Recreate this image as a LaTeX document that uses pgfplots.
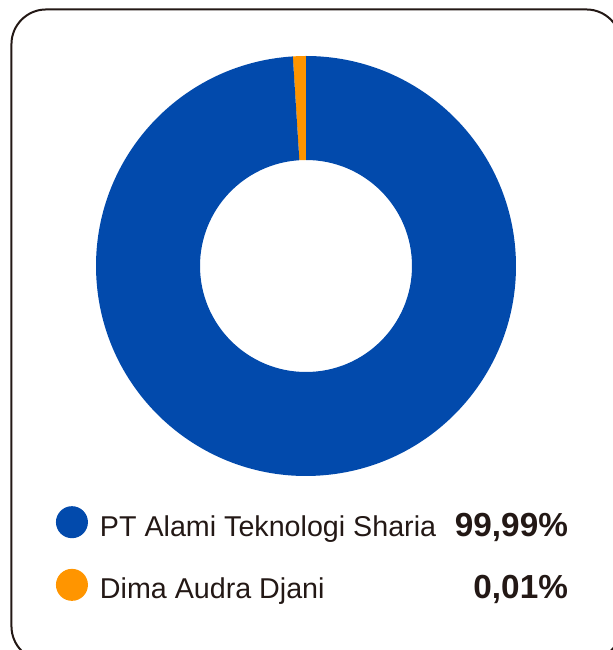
\documentclass[border=0pt]{standalone}
\usepackage{pgfplots}
\pgfplotsset{compat=1.18}
\usepackage{pgfplotstable}
\usepackage{fontspec}
\setmainfont{Liberation Sans}
\definecolor{cblue}{HTML}{024AAC}
\definecolor{corange}{HTML}{FF9500}
\definecolor{ink}{HTML}{231815}
\pgfplotstableread{
owner value
PT 99
Dima 1
}\shares
\begin{document}
\begin{tikzpicture}
\path[use as bounding box] (0pt,0pt) rectangle (459.75pt,487.5pt);
\begin{scope}
\clip (0pt,0pt) rectangle (459.75pt,487.5pt);
\draw[ink, line width=1.5pt, rounded corners=26pt] (8.6pt,-8.25pt) rectangle (465.75pt,480.4pt);
\end{scope}
\pgfplotstablegetelem{0}{value}\of\shares \pgfmathsetmacro{\va}{\pgfplotsretval}
\pgfplotstablegetelem{1}{value}\of\shares \pgfmathsetmacro{\vb}{\pgfplotsretval}
\pgfmathsetmacro{\tot}{\va+\vb}
\pgfmathsetmacro{\aA}{90}
\pgfmathsetmacro{\aB}{90+360*\vb/\tot}
\pgfmathsetmacro{\aC}{450}
\begin{axis}[at={(229.5pt,288pt)}, anchor=center, width=315pt, height=315pt,
  scale only axis, hide axis, xmin=-1, xmax=1, ymin=-1, ymax=1, clip=false,
  legend style={at={(axis description cs:-0.096,-0.016)}, anchor=north west,
    draw=none, fill=none, inner sep=0pt, row sep=0pt, column sep=9pt,
    nodes={inner sep=0pt, text=ink, font=\fontsize{21.5}{25}\selectfont}},
  legend cell align=left]
\fill[corange] ([shift={(\aA:157.5pt)}]axis cs:0,0) arc[start angle=\aA, end angle=\aB, radius=157.5pt]
  -- ([shift={(\aB:79.5pt)}]axis cs:0,0) arc[start angle=\aB, end angle=\aA, radius=79.5pt] -- cycle;
\fill[cblue] ([shift={(\aB:157.5pt)}]axis cs:0,0) arc[start angle=\aB, end angle=\aC, radius=157.5pt]
  -- ([shift={(\aC:79.5pt)}]axis cs:0,0) arc[start angle=\aC, end angle=\aB, radius=79.5pt] -- cycle;
\addlegendimage{legend image code/.code={\path[draw=none,fill=none] (0pt,-15pt) rectangle (0pt,32pt); \fill[cblue,draw=none] (0pt,2.6pt) circle (12pt);}}
\addlegendentry{\makebox[351pt][l]{PT Alami Teknologi Sharia\hfill{\fontsize{25}{25}\selectfont\bfseries 99,99\%}}}
\addlegendimage{legend image code/.code={\path[draw=none,fill=none] (0pt,-15pt) rectangle (0pt,32pt); \fill[corange,draw=none] (0pt,2.6pt) circle (12pt);}}
\addlegendentry{\makebox[351pt][l]{Dima Audra Djani\hfill{\fontsize{25}{25}\selectfont\bfseries 0,01\%}}}
\end{axis}
\end{tikzpicture}
\end{document}
